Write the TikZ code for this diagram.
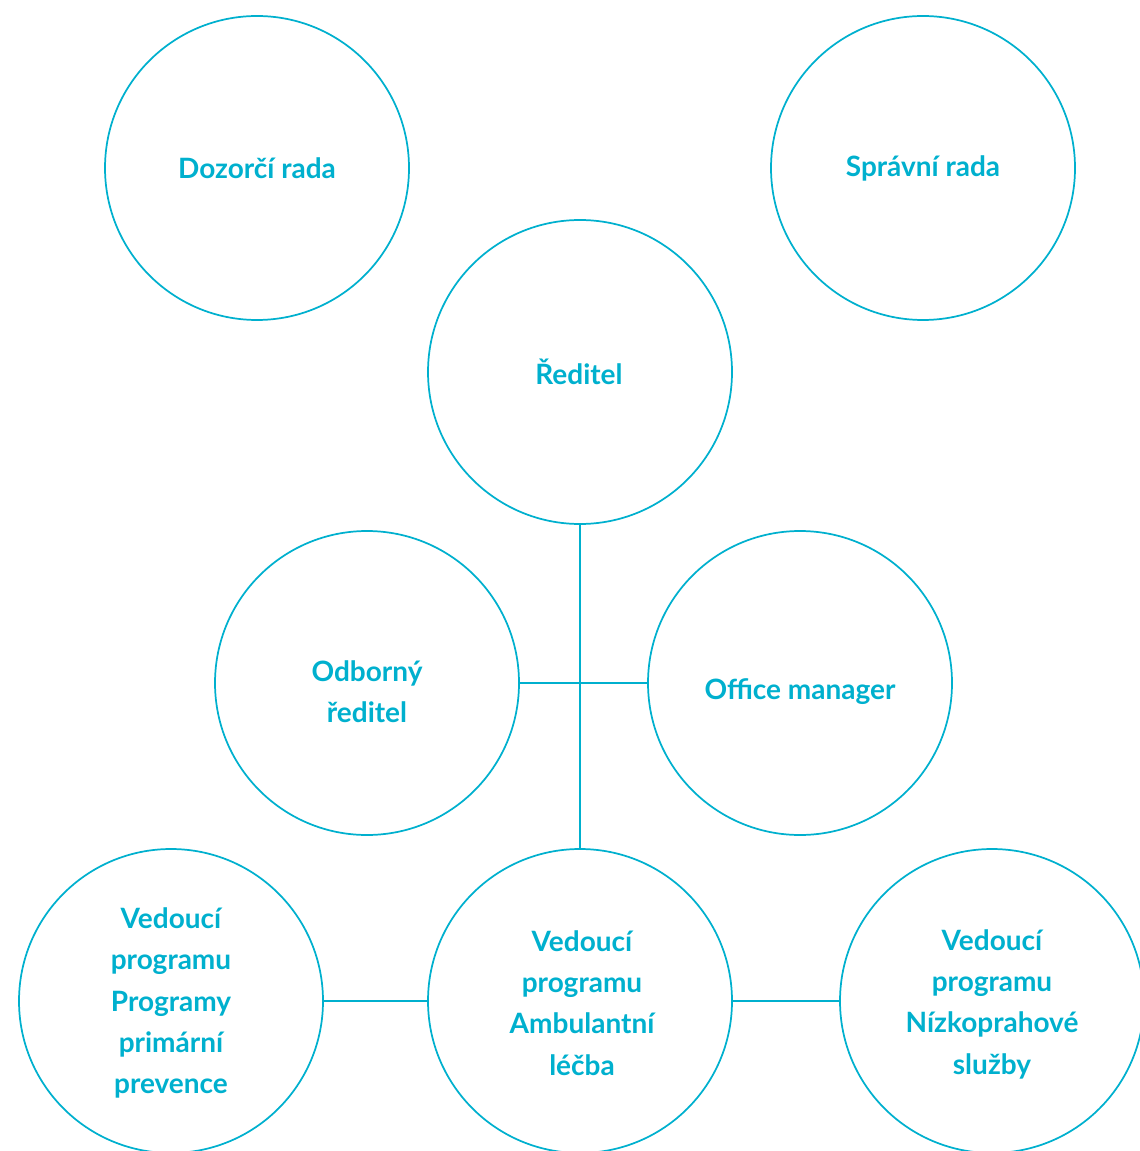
\documentclass[tikz,border=0pt]{standalone}
\usepackage{fontspec}
\setmainfont{Lato}
\usepackage{xcolor}
\usepackage{tikz}
\usetikzlibrary{positioning}
\definecolor{orgcyan}{RGB}{0,176,206}

\tikzset{
  unit/.style={circle,draw=orgcyan,line width=1.3pt,minimum size=228pt,inner sep=0pt},
  unittext/.style={text=orgcyan,align=center,inner sep=0.75pt,font=\bfseries\fontsize{21}{31}\selectfont},
  link/.style={draw=orgcyan,line width=1.3pt}
}

\begin{document}
\begin{tikzpicture}[x=0.75pt,y=0.75pt,yscale=-1,xscale=1]
%set diagram left start at 0, and has height of 1151
\useasboundingbox (0,0) rectangle (1139,1151);

%Shape: Circle [top row]
\node [unit] (dozorci) at (257,168) {};
\node [unit] (spravni) at (923,168) {};
%Shape: Circle [director]
\node [unit] (reditel) at (580,372) {};
%Shape: Circle [middle row]
\node [unit] (odborny) at (367,683) {};
\node [unit] (office) at (800,683) {};
%Shape: Circle [bottom row]
\node [unit] (primarni) at (171,1001) {};
\node [unit] (ambulantni) at (580,1001) {};
\node [unit] (nizko) at (992,1001) {};

%Straight Lines
\draw [link] (reditel) -- (ambulantni);
\draw [link] (odborny) -- (office);
\draw [link] (primarni) -- (ambulantni);
\draw [link] (ambulantni) -- (nizko);

% Text Node
\node [unittext] (tdozorci) at (257,168) {Dozorčí rada};
% Text Node
\node [unittext] (tspravni) at (923,168) {Správní rada};
% Text Node
\node [unittext] (treditel) at (579,372) {Ředitel};
% Text Node
\node [unittext] (todborny) at (367,692) {Odborný\\ředitel};
% Text Node
\node [unittext] (toffice) at (800,692) {Office manager};
% Text Node
\node [unittext] (tprimarni) at (171,1003) {Vedoucí\\programu\\Programy\\primární\\prevence};
% Text Node
\node [unittext] (tambulantni) at (582,1003) {Vedoucí\\programu\\Ambulantní\\léčba};
% Text Node
\node [unittext] (tnizko) at (992,1004) {Vedoucí\\programu\\Nízkoprahové\\služby};

\end{tikzpicture}
\end{document}
